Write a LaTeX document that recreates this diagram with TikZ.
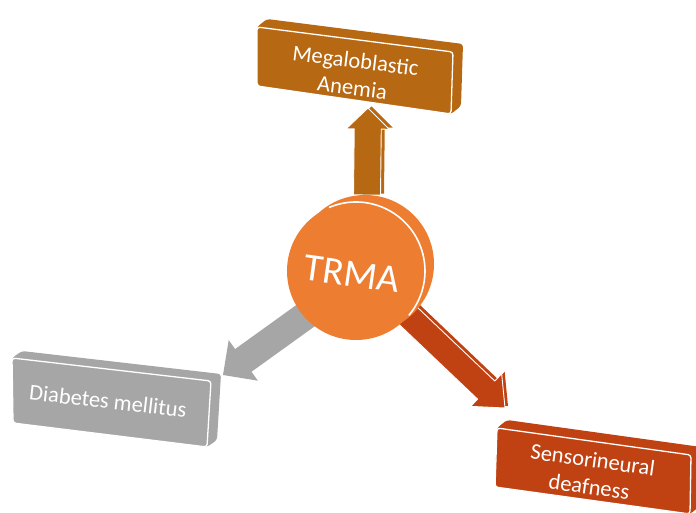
\documentclass[tikz,border=0pt]{standalone}
\usepackage{fontspec}
\setmainfont{Carlito}
\usetikzlibrary{calc}

\definecolor{brownbox}{RGB}{183,104,18}
\definecolor{discorange}{RGB}{237,125,49}
\definecolor{greybox}{RGB}{166,166,166}
\definecolor{redbox}{RGB}{192,66,18}

% block arrow: tail, tip, shaft half-width, head half-width, head length, style
\newcommand{\blockarrow}[6]{%
  \coordinate (hb) at ($(#2)!#5!(#1)$);
  \path[#6] ($(#1)!#3!90:(#2)$) -- ($(hb)!#3!-90:(#1)$) -- ($(hb)!#4!-90:(#1)$)
    -- (#2) -- ($(hb)!#4!90:(#1)$) -- ($(hb)!#3!90:(#1)$) -- ($(#1)!#3!-90:(#2)$) -- cycle;
}

% slab: front corners TL, TR, BR, BL, depth offset, colour
\newcommand{\slab}[6]{%
  \fill[#6, rounded corners=3pt] (#1) -- ($(#1)+(#5)$) -- ($(#2)+(#5)$) -- ($(#3)+(#5)$)
    -- (#3) -- (#4) -- cycle;
  \filldraw[#6, draw=white, line width=1.3pt, rounded corners=3pt]
    (#1) -- (#2) -- (#3) -- (#4) -- cycle;
}

\tikzset{
  boxtext/.style={text=white, align=center, inner sep=0pt,
    font=\fontsize{22.5}{27}\selectfont},
  disc/.style={circle, fill=discorange, minimum size=138pt, inner sep=0pt},
  frontface/.style={draw=white, line width=0.9pt, line join=round},
}

\begin{document}
\begin{tikzpicture}[x=1pt, y=-1pt]
\useasboundingbox (0,0) rectangle (696,513);

% ---- arrows (drawn first, the disc sits on top of their tails)
\coordinate (upTail) at (367,195);
\coordinate (upTip)  at (368,108);
\coordinate (upTailB) at (370.5,193.5);
\coordinate (upTipB)  at (371.5,106.5);
\blockarrow{upTailB}{upTipB}{13.5pt}{21.5pt}{21pt}{fill=brownbox}
\blockarrow{upTail}{upTip}{13.5pt}{21.5pt}{21pt}{fill=brownbox, frontface}

\coordinate (dmTail) at (312,311);
\coordinate (dmTip)  at (223,375);
\blockarrow{dmTail}{dmTip}{14pt}{25pt}{25pt}{fill=greybox}

\coordinate (sdTail) at (402,310);
\coordinate (sdTip)  at (505,408);
\coordinate (sdTailB) at (405,308);
\coordinate (sdTipB)  at (508,406);
\blockarrow{sdTailB}{sdTipB}{12.5pt}{22.5pt}{26pt}{fill=redbox}
\blockarrow{sdTail}{sdTip}{12.5pt}{22.5pt}{26pt}{fill=redbox, frontface}

% ---- central disc
\fill[discorange] (365,264) circle (69);
\node[disc] (trma) at (356,271) {};
\draw[white, line width=1.6pt] (trma.center) ++(-113:69) arc[start angle=-113, end angle=40, radius=69];
\node[text=white, font=\fontsize{39}{41}\selectfont, rotate=-8, inner sep=0pt] (trmatext) at (352,274) {TRMA};

% ---- Megaloblastic Anemia slab
\coordinate (mTL) at (257,27);
\coordinate (mTR) at (453,52);
\coordinate (mBR) at (451,114);
\coordinate (mBL) at (257,86);
\slab{mTL}{mTR}{mBR}{mBL}{10,-8}{brownbox}
\node[boxtext, rotate=-7] (mega) at (354,74) {Megaloblastic\\Anemia};

% ---- Diabetes mellitus slab
\coordinate (gTL) at (12,358);
\coordinate (gTR) at (211,381);
\coordinate (gBR) at (207,447);
\coordinate (gBL) at (13,423);
\slab{gTL}{gTR}{gBR}{gBL}{10,-7}{greybox}
\node[boxtext, rotate=-6.5] (diab) at (108,401) {Diabetes mellitus};

% ---- Sensorineural deafness slab
\coordinate (sTL) at (497,428);
\coordinate (sTR) at (691,455);
\coordinate (sBR) at (690,514);
\coordinate (sBL) at (495,487);
\slab{sTL}{sTR}{sBR}{sBL}{10,-8}{redbox}
\node[boxtext, rotate=-8] (sens) at (591,473) {Sensorineural\\deafness};
\end{tikzpicture}
\end{document}
